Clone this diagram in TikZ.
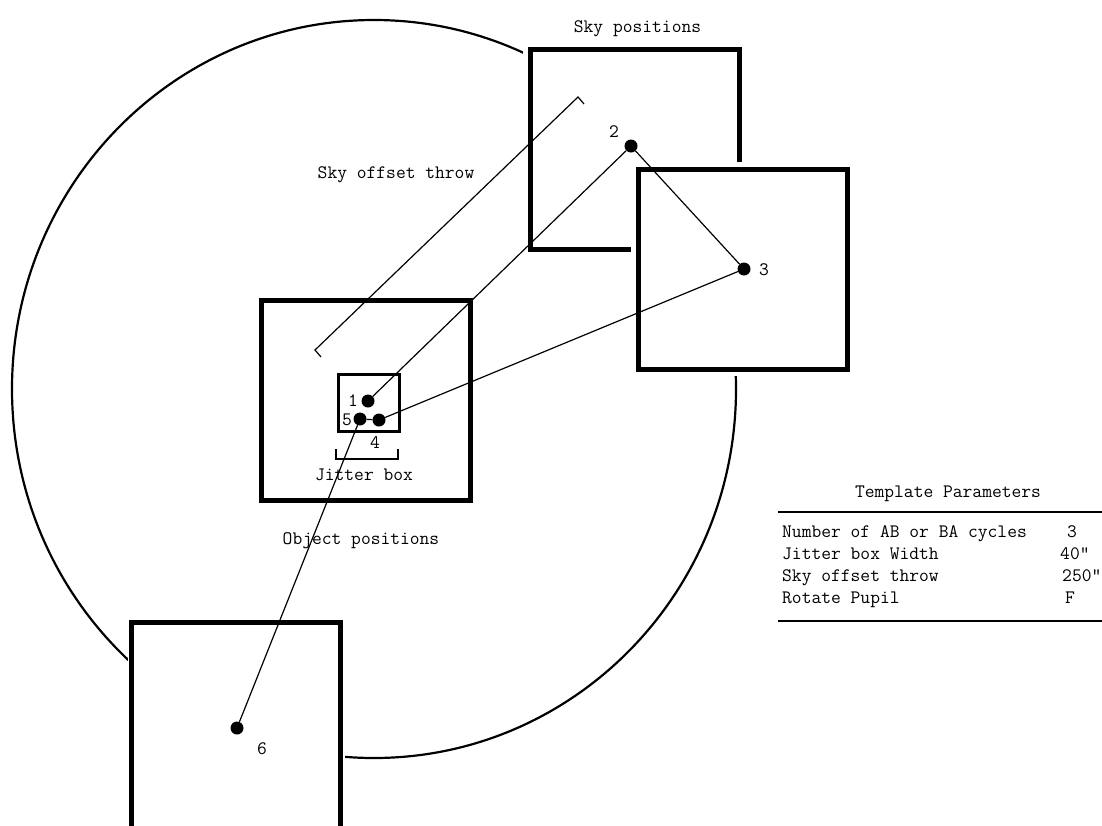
\documentclass[tikz,border=0pt]{standalone}
\usepackage{fontspec}
\usepackage{tikz}
\usetikzlibrary{positioning, calc}
\tikzstyle{field} = [line width=2.2pt]
\tikzset{posbox/.style={draw, line width=5pt, fill=white, preaction={draw=white, line width=#1}, minimum width=209pt, minimum height=200pt, inner sep=0pt}, posbox/.default=14pt}
\tikzstyle{jitbox} = [draw, line width=3pt, fill=white, minimum width=61pt, minimum height=57pt, inner sep=0pt]
\tikzstyle{dot} = [circle, fill=black, inner sep=0pt, minimum size=13pt]
\tikzstyle{trace} = [line width=1.2pt]
\tikzstyle{rule} = [line width=2pt]
\tikzstyle{lbl} = [font=\ttfamily\fontsize{19}{22}\selectfont, inner sep=0pt, anchor=base]

\begin{document}
\begin{tikzpicture}[x=1pt, y=-1pt]
\clip (0,0) rectangle (1102,825);
\fill[white] (0,0) rectangle (1102,825);

% Field of view
\draw[field] (374,389) ellipse [x radius=362pt, y radius=369pt];

% Sky, object and jitter boxes
\node[posbox] (skyA) at (634.5,149) {};
\node[posbox] (skyB) at (742.5,269) {};
\node[posbox] (obj) at (365.5,400) {};
\node[posbox=8pt, minimum height=206pt] (objB) at (236,725) {};
\node[jitbox] (jit) at (368.5,402.5) {};

% Positions
\node[dot] (p1) at (368,401) {};
\node[dot] (p2) at (631,146) {};
\node[dot] (p3) at (744,269) {};
\node[dot] (p4) at (379,420) {};
\node[dot] (p5) at (360,419) {};
\node[dot] (p6) at (237,728) {};
\draw[trace] (p1) -- (p2) -- (p3) -- (p4) -- (p5) -- (p6);

\node[lbl] (n1) at (353,406) {1};
\node[lbl] (n2) at (614,137) {2};
\node[lbl] (n3) at (764,275) {3};
\node[lbl] (n4) at (375,448) {4};
\node[lbl] (n5) at (347,425) {5};
\node[lbl] (n6) at (262,754) {6};

% Sky offset throw bracket
\coordinate (throwA) at (315,350);
\coordinate (throwAt) at (321,357);
\coordinate (throwB) at (578,97);
\coordinate (throwBt) at (584,104);
\draw[trace] (throwAt) -- (throwA) -- (throwB) -- (throwBt);

% Jitter box bracket
\coordinate (jitL) at (336,459);
\coordinate (jitR) at (398,459);
\draw[trace] ($(jitL)+(0,-10)$) -- (jitL) -- (jitR) -- ($(jitR)+(0,-10)$);

% Labels
\node[lbl] (skylbl) at (637.5,32) {Sky positions};
\node[lbl] (throwlbl) at (396,178) {Sky offset throw};
\node[lbl] (objlbl) at (361,544) {Object positions};
\node[lbl] (jitlbl) at (364,480) {Jitter box};

% Template parameters
\node[lbl] (tpl) at (948,497) {Template Parameters};
\coordinate (tabTL) at (778,512);
\coordinate (tabTR) at (1110,512);
\coordinate (tabBL) at (778,621);
\coordinate (tabBR) at (1110,621);
\draw[rule] (tabTL) -- (tabTR);
\draw[rule] (tabBL) -- (tabBR);
\node[lbl, anchor=base west] (r1) at (782,537) {Number of AB or BA cycles};
\node[lbl, anchor=base west] (r2) at (782,559) {Jitter box Width};
\node[lbl, anchor=base west] (r3) at (782,581) {Sky offset throw};
\node[lbl, anchor=base west] (r4) at (782,603) {Rotate Pupil};
\node[lbl] (v1) at (1072,537) {3};
\node[lbl, anchor=base west] (v2) at (1060,559) {40"};
\node[lbl, anchor=base west] (v3) at (1062,581) {250"};
\node[lbl] (v4) at (1070,603) {F};
\end{tikzpicture}
\end{document}
